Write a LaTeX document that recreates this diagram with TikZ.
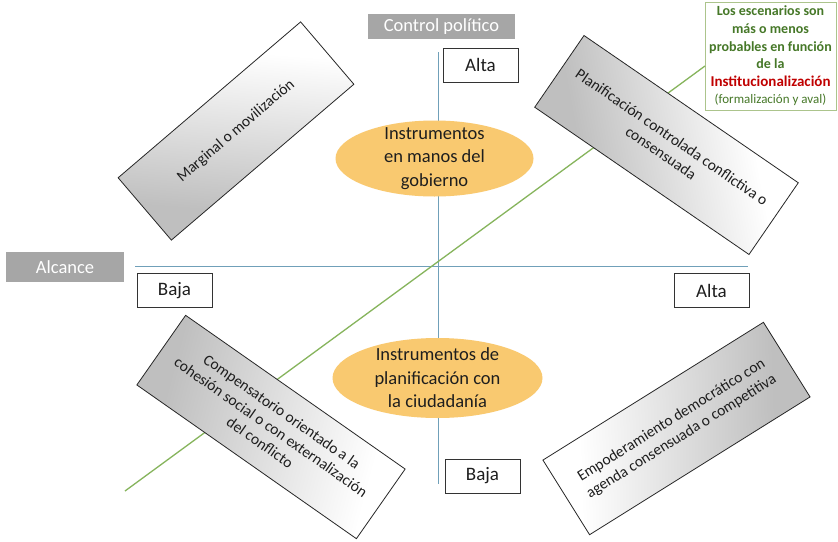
\documentclass[tikz,border=0pt]{standalone}
\usepackage{fontspec}
\setmainfont{Carlito}
\usetikzlibrary{shapes.geometric}
\definecolor{axisblue}{RGB}{112,160,185}
\definecolor{diaggreen}{RGB}{134,180,92}
\definecolor{labelgray}{RGB}{166,166,166}
\definecolor{ellfill}{RGB}{249,201,112}
\definecolor{boxgreen}{RGB}{172,196,140}
\definecolor{textgreen}{RGB}{70,120,40}
\definecolor{textred}{RGB}{192,0,0}
\definecolor{txt}{RGB}{30,30,30}
\begin{document}
\begin{tikzpicture}[x=1pt,y=-1pt,
  axisline/.style={draw=axisblue,line width=0.8pt},
  greenline/.style={draw=diaggreen,line width=1.3pt},
  graylabel/.style={fill=labelgray,text=white,inner sep=0pt,font=\fontsize{18.5}{22}\selectfont},
  levelbox/.style={draw=black!80,fill=white,line width=0.7pt,minimum width=75pt,minimum height=34pt,inner sep=0pt,text=txt,font=\fontsize{19}{22}\selectfont},
  scenario/.style={draw=black!85,line width=0.8pt,shading=axis,top color=white,middle color=white,bottom color=black!25,inner sep=2pt,align=center,text=txt,font=\fontsize{15.5}{19}\selectfont},
  instr/.style={ellipse,fill=ellfill,draw=none,inner sep=0pt},
  instrtext/.style={align=center,text=txt,font=\fontsize{18.5}{23.5}\selectfont},
]
\useasboundingbox (0,0) rectangle (838,541);
\fill[white] (0,0) rectangle (838,541);

% axes
\coordinate (vtop) at (438,52);
\coordinate (vbot) at (438,484);
\coordinate (hleft) at (135,266);
\coordinate (hright) at (748,266);
\draw[axisline] (vtop) -- (vbot);
\draw[axisline] (hleft) -- (hright);

% green box
\node[draw=boxgreen,line width=0.9pt,fill=white,minimum width=131pt,minimum height=108pt,inner sep=0pt,align=center,
      font=\fontsize{14}{17.6}\selectfont] (gbox) at (770.5,56)
  {\textcolor{textgreen}{\bfseries Los escenarios son}\\
   \textcolor{textgreen}{\bfseries más o menos}\\
   \textcolor{textgreen}{\bfseries probables en función}\\
   \textcolor{textgreen}{\bfseries de la}\\
   \textcolor{textred}{\bfseries\fontsize{15}{17.6}\selectfont Institucionalización}\\
   \textcolor{textgreen}{\fontsize{13}{17}\selectfont (formalización y aval)}};

% diagonal green line
\coordinate (gstart) at (125,491);
\coordinate (gend) at (705,66);
\draw[greenline] (gstart) -- (gend);

% labels
\node[graylabel,minimum width=147pt,minimum height=25pt] (ctrl) at (441.5,26.5) {Control político};
\node[graylabel,minimum width=118pt,minimum height=30pt] (alc) at (65,267) {Alcance};

\node[levelbox] (altatop) at (480.5,65) {Alta};
\node[levelbox] (bajaleft) at (174.5,290.5) {Baja};
\node[levelbox] (altaright) at (711.5,290.5) {Alta};
\node[levelbox] (bajabot) at (482.5,476) {Baja};

% ellipses
\node[instr,minimum width=198pt,minimum height=76pt] (egob) at (434.5,158.5) {};
\node[instrtext] (egobt) at (egob) {Instrumentos\\en manos del\\gobierno};
\node[instr,minimum width=210pt,minimum height=80pt] (eciu) at (437.5,378) {};
\node[instrtext] (eciut) at (eciu) {Instrumentos de\\planificación con\\la ciudadanía};

% scenario boxes
\begin{scope}[transform canvas={shift={(236,131)},rotate=40.5}]
\node[scenario,shading angle=-45,minimum width=240pt,minimum height=82pt] (marg) at (0,0)
  {Marginal o movilización};
\end{scope}
\begin{scope}[transform canvas={shift={(666.5,145)},rotate=-34.5}]
\node[scenario,shading angle=-45,minimum width=260pt,minimum height=87pt] (plan) at (0,0)
  {Planificación controlada conflictiva o\\consensuada};
\end{scope}
\begin{scope}[transform canvas={shift={(271,427)},rotate=-35}]
\node[scenario,shading angle=-70,minimum width=268pt,minimum height=85pt] (comp) at (0,0)
  {Compensatorio orientado a la\\cohesión social o con externalización\\del conflicto};
\end{scope}
\begin{scope}[transform canvas={shift={(676.5,428.5)},rotate=32}]
\node[scenario,shading angle=60,minimum width=260pt,minimum height=88pt] (empo) at (0,0)
  {Empoderamiento democrático con\\agenda consensuada o competitiva};
\end{scope}
\end{tikzpicture}
\end{document}
